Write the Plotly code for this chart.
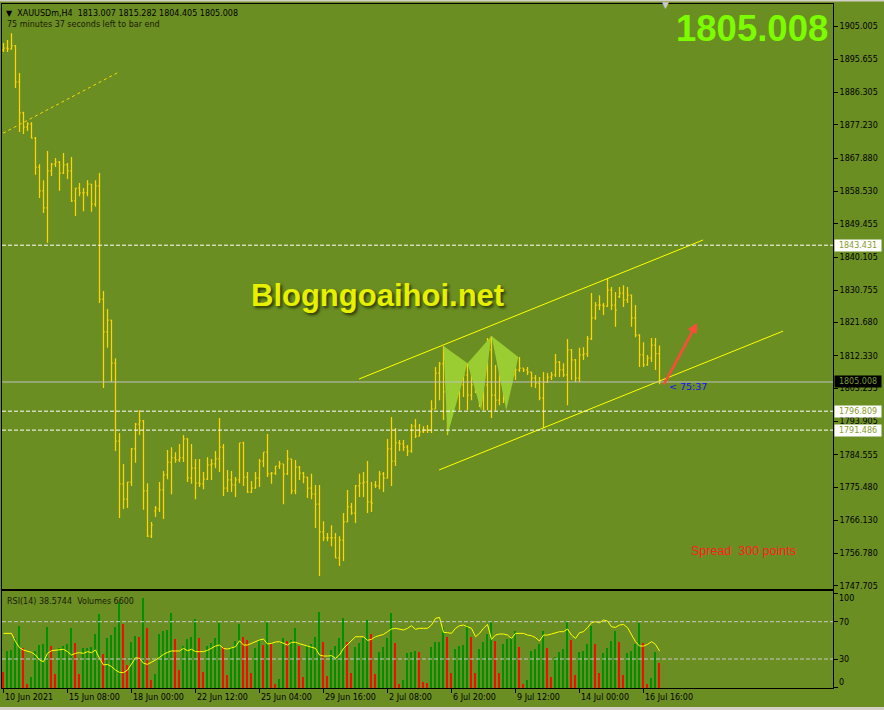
import plotly.graph_objects as go

# XAUUSDm H4 bars (index 0 = 10 Jun 2021 ... 164 = current bar)
opens = [1898.3, 1898.8, 1898.6, 1899.4, 1889.3, 1880.6, 1876.6, 1877.5, 1873.5, 1865.4,
         1858.7, 1853.9, 1864.3, 1866.2, 1866.8, 1863.7, 1866.0, 1864.3, 1855.9, 1859.5,
         1858.1, 1858.1, 1860.6, 1855.0, 1860.1, 1828.3, 1819.1, 1822.4, 1810.3, 1788.4,
         1776.4, 1772.1, 1776.9, 1786.2, 1793.2, 1794.1, 1774.4, 1761.7, 1768.8, 1769.3,
         1774.7, 1778.9, 1782.5, 1783.7, 1783.1, 1783.7, 1789.0, 1778.0, 1780.8, 1776.6,
         1776.4, 1777.7, 1781.7, 1782.0, 1783.4, 1786.7, 1775.2, 1777.5, 1776.1, 1777.5,
         1787.9, 1778.3, 1774.1, 1775.2, 1778.0, 1782.8, 1785.3, 1779.2, 1779.4, 1781.4,
         1782.0, 1779.2, 1783.4, 1774.4, 1781.1, 1779.4, 1778.3, 1775.2, 1773.5, 1770.7,
         1762.9, 1761.2, 1761.2, 1761.2, 1755.6, 1760.6, 1765.7, 1769.9, 1768.2, 1775.8,
         1776.6, 1776.9, 1771.3, 1776.1, 1775.8, 1779.2, 1778.0, 1786.2, 1782.8, 1787.9,
         1787.6, 1786.7, 1785.6, 1792.6, 1789.8, 1791.0, 1791.5, 1791.5, 1797.4, 1807.5,
         1810.1, 1802.2, 1795.7, 1805.6, 1802.8, 1804.2, 1807.0, 1801.3, 1804.2, 1802.8,
         1799.9, 1804.2, 1814.0, 1801.3, 1799.9, 1805.6, 1801.3, 1809.8, 1807.0, 1808.4,
         1808.9, 1808.4, 1807.8, 1806.1, 1804.7, 1800.5, 1805.0, 1806.4, 1807.0, 1810.6,
         1808.4, 1807.0, 1814.0, 1811.2, 1806.1, 1812.6, 1812.9, 1817.1, 1823.0, 1826.6,
         1826.6, 1826.3, 1830.8, 1826.6, 1829.0, 1830.0, 1828.1, 1829.4, 1823.0, 1818.2,
         1812.6, 1809.8, 1811.7, 1815.4, 1813.007]
highs = [1900.2, 1901.1, 1903.0, 1899.7, 1891.8, 1880.9, 1878.0, 1878.0, 1873.8, 1866.2,
         1861.7, 1869.9, 1866.5, 1867.9, 1867.1, 1869.3, 1866.5, 1868.2, 1859.5, 1860.9,
         1859.5, 1861.7, 1860.6, 1861.7, 1863.7, 1830.6, 1825.5, 1822.4, 1811.7, 1790.7,
         1782.0, 1776.9, 1786.5, 1793.5, 1797.1, 1794.3, 1776.6, 1765.7, 1770.2, 1776.9,
         1780.0, 1785.9, 1786.7, 1785.3, 1787.6, 1790.1, 1789.3, 1787.6, 1783.4, 1783.4,
         1779.7, 1783.9, 1783.4, 1785.6, 1794.9, 1787.6, 1780.3, 1780.0, 1778.3, 1787.9,
         1788.2, 1779.7, 1777.2, 1779.7, 1783.4, 1785.3, 1790.4, 1779.7, 1781.4, 1782.8,
         1782.0, 1785.9, 1783.4, 1783.1, 1781.4, 1779.7, 1778.3, 1779.2, 1776.1, 1776.1,
         1765.9, 1762.6, 1764.8, 1762.6, 1761.7, 1768.2, 1774.7, 1771.0, 1776.1, 1779.2,
         1779.7, 1782.8, 1776.9, 1777.2, 1780.0, 1779.7, 1789.0, 1795.2, 1792.1, 1788.7,
         1788.7, 1787.3, 1793.2, 1794.6, 1793.2, 1792.6, 1792.9, 1799.9, 1809.2, 1810.6,
         1815.1, 1806.1, 1807.8, 1808.9, 1806.4, 1808.9, 1810.3, 1807.5, 1806.4, 1808.9,
         1807.5, 1817.4, 1817.9, 1809.8, 1808.4, 1807.8, 1811.2, 1812.0, 1811.7, 1812.0,
         1808.9, 1809.2, 1807.8, 1807.0, 1806.4, 1807.8, 1807.5, 1807.8, 1812.9, 1810.9,
         1810.3, 1817.1, 1814.3, 1811.5, 1814.6, 1814.8, 1817.9, 1830.0, 1827.5, 1829.4,
         1827.2, 1834.0, 1831.7, 1830.3, 1831.7, 1832.2, 1831.7, 1829.6, 1826.6, 1818.4,
         1816.2, 1812.6, 1817.4, 1817.4, 1815.282]
lows = [1897.7, 1897.7, 1898.3, 1887.6, 1875.2, 1874.7, 1875.5, 1873.5, 1863.2, 1856.7,
        1852.5, 1844.1, 1862.9, 1865.4, 1858.7, 1863.4, 1862.0, 1855.6, 1851.6, 1857.2,
        1853.0, 1857.2, 1852.8, 1854.2, 1827.2, 1803.3, 1814.6, 1805.0, 1785.6, 1766.8,
        1769.3, 1769.6, 1775.8, 1782.3, 1790.1, 1769.1, 1761.5, 1761.2, 1767.1, 1768.5,
        1766.5, 1777.7, 1773.5, 1782.3, 1782.5, 1782.5, 1776.9, 1776.4, 1772.1, 1775.5,
        1774.9, 1777.5, 1777.5, 1780.8, 1779.7, 1773.0, 1774.1, 1774.1, 1772.7, 1776.6,
        1775.8, 1773.8, 1773.8, 1775.0, 1775.5, 1781.1, 1778.3, 1776.4, 1778.9, 1780.6,
        1770.7, 1778.9, 1773.5, 1773.5, 1777.5, 1776.6, 1772.4, 1772.1, 1764.0, 1750.5,
        1760.3, 1760.3, 1758.9, 1755.6, 1753.3, 1754.7, 1765.7, 1767.7, 1765.4, 1772.7,
        1772.7, 1768.2, 1768.5, 1775.2, 1774.9, 1774.1, 1778.0, 1775.8, 1781.4, 1785.6,
        1785.6, 1784.2, 1785.1, 1789.3, 1789.8, 1790.7, 1790.7, 1790.7, 1797.4, 1799.9,
        1794.3, 1790.1, 1795.2, 1799.9, 1797.1, 1800.8, 1797.1, 1799.9, 1801.9, 1798.0,
        1797.1, 1797.1, 1794.9, 1796.9, 1798.5, 1799.1, 1801.3, 1804.2, 1805.6, 1807.8,
        1807.8, 1807.0, 1803.6, 1803.3, 1799.9, 1792.1, 1804.7, 1805.6, 1806.4, 1806.4,
        1806.4, 1798.5, 1805.6, 1805.0, 1805.0, 1811.2, 1812.0, 1816.8, 1822.5, 1825.2,
        1823.8, 1826.1, 1825.2, 1820.5, 1828.6, 1826.1, 1827.2, 1820.5, 1817.6, 1809.2,
        1809.2, 1809.6, 1810.6, 1808.4, 1804.405]
closes = [1898.8, 1898.6, 1899.4, 1889.3, 1880.6, 1876.6, 1877.5, 1873.5, 1865.4, 1858.7,
          1853.9, 1864.3, 1866.2, 1866.8, 1863.7, 1866.0, 1864.3, 1855.9, 1859.5, 1858.1,
          1858.1, 1860.6, 1855.0, 1860.1, 1828.3, 1819.1, 1822.4, 1810.3, 1788.4, 1776.4,
          1772.1, 1776.9, 1786.2, 1793.2, 1794.1, 1774.4, 1761.7, 1764.8, 1769.6, 1774.7,
          1778.9, 1782.5, 1783.7, 1783.1, 1783.7, 1789.0, 1778.0, 1780.8, 1776.6, 1776.4,
          1777.7, 1781.7, 1782.0, 1783.4, 1786.7, 1775.2, 1777.5, 1776.1, 1777.5, 1787.9,
          1778.3, 1774.1, 1775.2, 1778.0, 1782.8, 1785.3, 1779.2, 1779.4, 1781.4, 1782.0,
          1779.2, 1783.4, 1774.4, 1781.1, 1779.4, 1778.3, 1775.2, 1773.5, 1770.7, 1762.9,
          1761.2, 1761.2, 1761.2, 1755.6, 1760.6, 1765.7, 1769.9, 1768.2, 1775.8, 1776.6,
          1776.9, 1771.3, 1771.0, 1775.8, 1779.2, 1778.0, 1786.2, 1782.8, 1787.9, 1787.6,
          1786.7, 1785.6, 1792.6, 1789.8, 1791.0, 1791.5, 1791.5, 1797.4, 1807.5, 1810.1,
          1802.2, 1795.7, 1805.6, 1802.8, 1804.2, 1807.0, 1801.3, 1804.2, 1802.8, 1799.9,
          1804.2, 1814.0, 1801.3, 1799.9, 1805.6, 1801.3, 1809.8, 1807.0, 1808.4, 1808.9,
          1808.4, 1807.8, 1806.1, 1804.7, 1800.5, 1805.0, 1806.4, 1807.0, 1810.6, 1808.4,
          1807.0, 1814.0, 1811.2, 1806.1, 1812.6, 1812.9, 1817.1, 1823.0, 1826.6, 1826.6,
          1826.3, 1830.8, 1826.6, 1825.2, 1830.0, 1828.1, 1829.4, 1823.0, 1818.2, 1812.6,
          1809.8, 1811.7, 1815.4, 1813.0, 1805.008]

volumes = [4090, 9740, 9920, 12960, 16180, 10350, 1040, 2960, 9740, 11220,
           11400, 16010, 11050, 3570, 10350, 11050, 11400, 15750, 11830, 3650,
           10350, 10530, 10790, 14090, 19310, 8870, 12960, 13830, 16010, 22530,
           16700, 6000, 12090, 13660, 13400, 23400, 15570, 2090, 3650, 14090,
           14960, 15140, 19660, 12700, 4700, 10960, 12700, 13400, 17920, 13140,
           4260, 10960, 11660, 13140, 16880, 10790, 3390, 10790, 12270, 16620,
           13400, 12530, 3830, 10350, 12530, 11220, 17310, 11400, 1040, 2260,
           12960, 12270, 12530, 15750, 10960, 2960, 11220, 11400, 13400, 19920,
           12090, 3220, 9920, 10960, 12960, 18180, 12090, 4000, 10790, 11660,
           12960, 17750, 14010, 3570, 9480, 10790, 13140, 19490, 11830, 960,
           2090, 9050, 9480, 9740, 9480, 1650, 1390, 10790, 11920, 12090,
           16010, 13400, 3830, 10180, 10960, 11220, 16440, 13400, 3830, 10180,
           12090, 14010, 17490, 12270, 3830, 11480, 12790, 12960, 14880, 10790,
           960, 2090, 9660, 10180, 11480, 14880, 10530, 2960, 8180, 9480,
           10180, 17490, 12530, 3390, 9480, 9660, 11480, 16180, 11480, 3830,
           9050, 10350, 12350, 14880, 12090, 3390, 9220, 9660, 11480, 16880,
           11660, 960, 2520, 9480, 6600]

rsi = [57.5, 57.5, 57.5, 48.6, 42.1, 39.6, 38.6, 37.1, 34.3, 28.9,
       27.1, 36.1, 38.9, 39.3, 39.6, 40.4, 37.9, 34.3, 36.1, 36.8,
       36.1, 37.9, 36.8, 39.6, 30.7, 23.6, 24.3, 21.8, 18.2, 15.7,
       15.4, 18.2, 24.6, 31.4, 30.7, 25.4, 24.3, 26.4, 28.9, 31.8,
       35.0, 37.1, 38.6, 38.6, 38.6, 41.4, 38.9, 40.4, 37.9, 37.9,
       37.9, 39.3, 41.4, 43.9, 45.0, 41.4, 40.7, 41.8, 43.2, 49.6,
       45.0, 45.0, 46.8, 49.3, 50.4, 51.4, 46.1, 46.8, 48.2, 48.6,
       47.1, 45.0, 47.9, 47.9, 46.4, 45.0, 43.9, 42.9, 41.4, 34.3,
       33.2, 33.2, 33.6, 30.7, 34.3, 41.4, 45.7, 49.3, 53.9, 53.9,
       53.9, 50.0, 51.1, 53.9, 55.0, 56.4, 59.3, 62.1, 62.9, 61.8,
       61.1, 62.9, 65.7, 61.8, 62.9, 62.9, 62.9, 66.4, 73.6, 74.6,
       58.6, 58.2, 57.5, 62.9, 65.7, 66.4, 64.6, 62.9, 53.9, 57.5,
       62.9, 67.1, 51.1, 55.7, 56.8, 56.8, 55.7, 52.1, 57.5, 57.5,
       57.5, 55.7, 55.0, 52.9, 49.3, 55.7, 55.7, 56.8, 58.2, 59.3,
       59.3, 62.1, 55.7, 52.1, 58.2, 59.3, 63.6, 68.9, 70.0, 68.9,
       71.8, 70.7, 64.6, 63.9, 66.4, 67.1, 63.6, 55.7, 48.6, 43.9,
       43.9, 45.7, 48.6, 45.7, 38.5744]

price_ticks = [1905.005, 1895.655, 1886.305, 1877.230, 1867.880, 1858.530, 1849.455,
               1840.105, 1830.755, 1821.680, 1812.330, 1803.255, 1793.905, 1784.555,
               1775.480, 1766.130, 1756.780, 1747.705]
time_tick_idx = [0, 16, 32, 48, 64, 80, 96, 112, 128, 144, 160]
time_tick_text = ["10 Jun 2021", "15 Jun 08:00", "18 Jun 00:00", "22 Jun 12:00",
                  "25 Jun 04:00", "29 Jun 16:00", "2 Jul 08:00", "6 Jul 20:00",
                  "9 Jul 12:00", "14 Jul 00:00", "16 Jul 16:00"]

bid = 1805.008
level_lines = [1843.431, 1796.809, 1791.486]
rsi_levels = [70, 30]

# drawn objects (bar index, price)
channel_upper = ([88.9, 174.9], [1805.85, 1844.9])
channel_lower = ([108.9, 194.9], [1780.3, 1819.3])
old_trend = ([-0.1, 28.9], [1874.9, 1892.1])
pattern_tris = [
    ([110, 111, 116], [1815.1, 1790.1, 1810.3]),
    ([116, 119.4, 122], [1810.3, 1797.0, 1817.9]),
    ([122, 125.7, 128.7], [1817.9, 1797.1, 1812.0]),
]

BG = "#6B8E23"
BAR = "#FFD700"
FONT = "DejaVu Sans"

idx = list(range(len(closes)))
vol_colors = []
for k, v in enumerate(volumes):
    up = k > 0 and v > volumes[k - 1]
    vol_colors.append("#009000" if up else "#F01000")


def px(x):
    # pixel column -> paper x
    return (x - 2) / 831


def py(y):
    # pixel row -> paper y
    return (688 - y) / 684


fig = go.Figure()

for tx, ty in pattern_tris:
    fig.add_trace(go.Scatter(x=tx + [tx[0]], y=ty + [ty[0]], fill="toself",
                             fillcolor="#9ACD32", line=dict(width=0), mode="lines",
                             hoverinfo="skip", xaxis="x", yaxis="y"))

fig.add_trace(go.Ohlc(x=idx, open=opens, high=highs, low=lows, close=closes,
                      increasing=dict(line=dict(color=BAR, width=1.25)),
                      decreasing=dict(line=dict(color=BAR, width=1.25)),
                      tickwidth=0.3, xaxis="x", yaxis="y"))

for (lx, ly), dash, col in [(channel_upper, "solid", "#FFFF00"),
                            (channel_lower, "solid", "#FFFF00"),
                            (old_trend, "3px,3px", "#FFD700")]:
    fig.add_trace(go.Scatter(x=lx, y=ly, mode="lines",
                             line=dict(color=col, width=1, dash=dash),
                             hoverinfo="skip", xaxis="x", yaxis="y"))

fig.add_trace(go.Bar(x=idx, y=volumes, marker=dict(color=vol_colors, line=dict(width=0)),
                     width=0.35, xaxis="x2", yaxis="y2"))
fig.add_trace(go.Scatter(x=idx, y=rsi, mode="lines", line=dict(color="#FFFF00", width=1),
                         xaxis="x2", yaxis="y3"))

shapes = []
for lv in level_lines:
    shapes.append(dict(type="line", xref="x domain", yref="y", x0=0, x1=1, y0=lv, y1=lv,
                       line=dict(color="white", width=1, dash="4px,2px")))
shapes.append(dict(type="line", xref="x domain", yref="y", x0=0, x1=1, y0=bid, y1=bid,
                   line=dict(color="#C0C0C0", width=1)))
for lv in rsi_levels:
    shapes.append(dict(type="line", xref="x2 domain", yref="y3", x0=0, x1=1, y0=lv, y1=lv,
                       line=dict(color="#C8C8C8", width=1, dash="4px,2px")))
shapes.append(dict(type="rect", xref="paper", yref="paper", x0=-0.01, x1=1.07,
                   y0=py(0), y1=py(1.6), fillcolor="#D4D0C8", line=dict(width=0)))
shapes.append(dict(type="rect", xref="paper", yref="paper", x0=-0.01, x1=1.07,
                   y0=py(707), y1=py(711), fillcolor="#D4D0C8", line=dict(width=0)))

ann = []
ann.append(dict(xref="paper", yref="paper", x=px(5), y=py(13), xanchor="left", yanchor="middle",
                text="▼\u00a0\u00a0XAUUSDm,H4\u00a0\u00a01813.007\u00a01815.282\u00a01804.405\u00a01805.008",
                showarrow=False, font=dict(family=FONT, size=8, color="black"), borderpad=0))
ann.append(dict(xref="paper", yref="paper", x=px(6), y=py(25), xanchor="left", yanchor="middle",
                text="75 minutes 37 seconds left to bar end",
                showarrow=False, font=dict(family=FONT, size=8, color="#1A1A00"), borderpad=0))
ann.append(dict(xref="paper", yref="paper", x=px(829), y=py(28), xanchor="right", yanchor="middle",
                text="<b>1805.008</b>", showarrow=False,
                font=dict(family="Liberation Sans", size=36.5, color="#7CFC00"), borderpad=0))
ann.append(dict(xref="paper", yref="paper", x=px(665), y=py(5), xanchor="center", yanchor="middle",
                text="▼", showarrow=False, font=dict(family=FONT, size=9, color="#C8C8C8")))
ann.append(dict(xref="paper", yref="paper", x=px(377), y=py(295), xanchor="center", yanchor="middle",
                text="<b>Blogngoaihoi.net</b>", showarrow=False,
                font=dict(family="Liberation Sans", size=31, color="#E6F000",
                          shadow="2px 2px 3px rgba(30,40,0,0.85)")))
ann.append(dict(xref="paper", yref="paper", x=px(689), y=py(551), xanchor="left", yanchor="middle",
                text="Spread\u00a0\u00a0300 points", showarrow=False,
                font=dict(family="Liberation Sans", size=12.5, color="#FF2020")))
ann.append(dict(xref="paper", yref="paper", x=px(667), y=py(387), xanchor="left", yanchor="middle",
                text="< 75:37", showarrow=False, font=dict(family=FONT, size=9.5, color="#1010FF")))
ann.append(dict(xref="paper", yref="paper", x=px(6), y=py(601), xanchor="left", yanchor="middle",
                text="RSI(14) 38.5744\u00a0\u00a0Volumes 6600", showarrow=False,
                font=dict(family=FONT, size=8, color="#1A1A00"), borderpad=0))
# red arrow
ann.append(dict(xref="x", yref="y", x=173.4, y=1821.6, ax=164.9, ay=1803.9, axref="x", ayref="y",
                showarrow=True, arrowhead=2, arrowsize=0.8, arrowwidth=2.5, arrowcolor="#FF4A3A",
                text=""))
# price labels on the right axis
for lv in level_lines:
    ann.append(dict(xref="paper", yref="y", x=1, y=lv, xanchor="left", yanchor="middle", xshift=1,
                    text=f"{lv:.3f}", showarrow=False, bgcolor="white", width=44, borderpad=1,
                    font=dict(family=FONT, size=8, color="#8A9A2A")))
ann.append(dict(xref="paper", yref="y", x=1, y=bid, xanchor="left", yanchor="middle", xshift=1,
                text=f"{bid:.3f}", showarrow=False, bgcolor="black", width=44, borderpad=1,
                font=dict(family=FONT, size=8, color="#7E9B3A")))
# RSI scale labels
for lab, yy in [("100", 598), ("70", 622), ("30", 659), ("0", 682)]:
    ann.append(dict(xref="paper", yref="paper", x=1, y=py(yy), xanchor="left", yanchor="middle",
                    xshift=5, text=lab, showarrow=False, borderpad=0,
                    font=dict(family=FONT, size=8, color="black")))
# time labels
for t, lab in zip(time_tick_idx, time_tick_text):
    ann.append(dict(xref="x", yref="paper", x=t, y=py(697), xanchor="left", yanchor="middle",
                    text=lab, showarrow=False, borderpad=0,
                    font=dict(family=FONT, size=8, color="black")))

fig.update_layout(
    width=884, height=710,
    margin=dict(l=2, r=51, t=4, b=22),
    paper_bgcolor=BG, plot_bgcolor=BG,
    showlegend=False,
    font=dict(family=FONT, size=8, color="black"),
    bargap=0,
    xaxis=dict(domain=[0, 1], range=[-0.375, 207.375], anchor="y", showline=True, mirror=True,
               linecolor="black", linewidth=1, showgrid=False, zeroline=False,
               showticklabels=False, ticks="", rangeslider=dict(visible=False)),
    yaxis=dict(domain=[py(589), 1], range=[1746.86, 1911.185], side="right", anchor="x",
               showline=True, mirror=True, linecolor="black", linewidth=1,
               ticks="outside", ticklen=4, tickcolor="black",
               tickvals=price_ticks, ticktext=[f"{v:.3f}" for v in price_ticks],
               tickfont=dict(family=FONT, size=8, color="black"),
               showgrid=False, zeroline=False),
    xaxis2=dict(domain=[0, 1], anchor="y2", matches="x", showline=True, mirror=True,
                linecolor="black", linewidth=1, ticks="outside", ticklen=4, tickcolor="black",
                tickvals=time_tick_idx, showticklabels=False, showgrid=False, zeroline=False),
    yaxis2=dict(domain=[0, py(591)], range=[0, 25320], anchor="x2", side="right",
                showline=True, mirror=True, linecolor="black", linewidth=1,
                showticklabels=False, ticks="", showgrid=False, zeroline=False),
    yaxis3=dict(overlaying="y2", anchor="x2", side="right", range=[-1.07, 102.9],
                ticks="outside", ticklen=4, tickcolor="black", tickvals=[0, 30, 70, 100],
                showticklabels=False, showgrid=False, zeroline=False, showline=False),
    shapes=shapes,
    annotations=ann,
)

fig.write_html("out.html", config={"displayModeBar": False},
               post_script="document.body.style.margin='0px';")
